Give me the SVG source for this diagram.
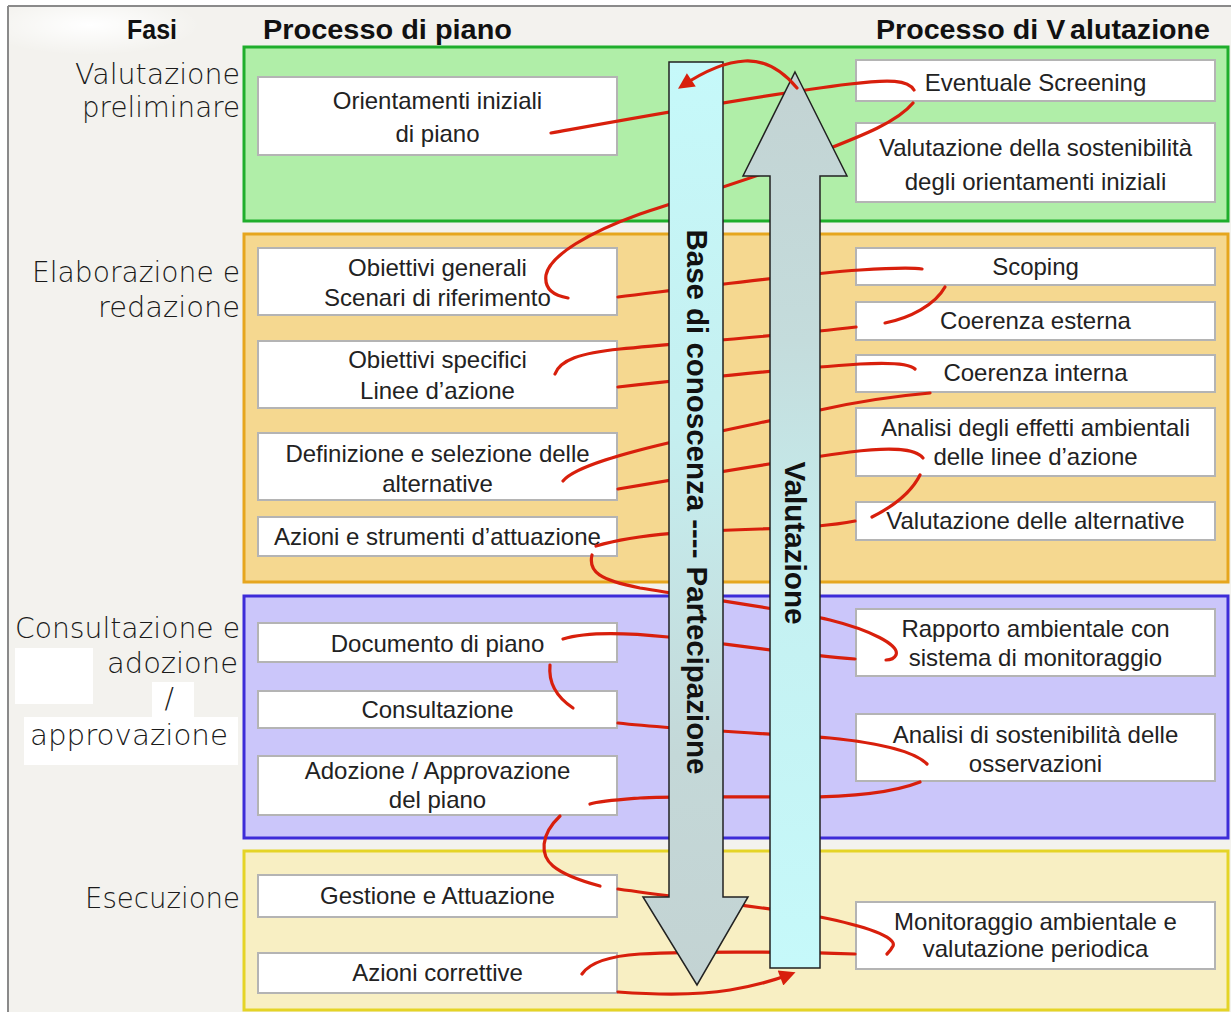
<svg xmlns="http://www.w3.org/2000/svg" width="1231" height="1012" viewBox="0 0 1231 1012">
<defs>
<style>
.hdr{font-family:"Liberation Sans",Arial,sans-serif;font-weight:bold;font-size:27px;fill:#111}
.phase{font-family:"DejaVu Sans","Liberation Sans",sans-serif;font-weight:200;font-size:28px;fill:#1a1a1a;text-anchor:end}
.node rect{fill:#fff;stroke:#b4b4b4;stroke-width:2}
.node text{font-family:"Liberation Sans",Arial,sans-serif;font-size:24px;fill:#222;text-anchor:middle}
.red{fill:none;stroke:#d81f0c;stroke-width:3.2;stroke-linecap:round}
.arrtxt{font-family:"Liberation Sans",Arial,sans-serif;font-weight:bold;font-size:29px;fill:#111;text-anchor:middle}
.blk{stroke:#222;stroke-width:1.5}
</style>
<linearGradient id="gDown" x1="0" y1="0" x2="0" y2="1">
<stop offset="0" stop-color="#c6f9fa"/><stop offset="0.4" stop-color="#c5eff0"/><stop offset="0.75" stop-color="#c4d8d8"/><stop offset="1" stop-color="#c3d3d3"/>
</linearGradient>
<linearGradient id="gUp" x1="0" y1="0" x2="0" y2="1">
<stop offset="0" stop-color="#c3d3d3"/><stop offset="0.3" stop-color="#c4dcdc"/><stop offset="0.6" stop-color="#c5f1f2"/><stop offset="1" stop-color="#c6f9fa"/>
</linearGradient>
<radialGradient id="gGlow" cx="0.5" cy="0.5" r="0.5">
<stop offset="0" stop-color="#fff" stop-opacity="1"/><stop offset="1" stop-color="#fff" stop-opacity="0"/>
</radialGradient>
<marker id="ah" viewBox="0 0 10 10" refX="7" refY="5" markerWidth="5.5" markerHeight="5" orient="auto" markerUnits="strokeWidth">
<path d="M0,0 L10,5 L0,10 z" fill="#d81f0c"/>
</marker>
</defs>

<rect x="0" y="0" width="1231" height="1012" fill="#fff"/>
<rect x="8" y="6" width="1223" height="1006" fill="#f3f2ee"/>
<ellipse cx="90" cy="25" rx="110" ry="30" fill="url(#gGlow)"/>
<rect x="15" y="648" width="78" height="56" fill="#fff"/>
<rect x="152" y="682" width="42" height="36" fill="#fff"/>
<rect x="24" y="717" width="214" height="48" fill="#fff"/>
<line x1="8" y1="6" x2="1231" y2="6" stroke="#8a8a8a" stroke-width="2"/>
<line x1="8" y1="6" x2="8" y2="1012" stroke="#8a8a8a" stroke-width="2"/>

<g id="headers">
<text class="hdr" x="127" y="39" textLength="50" lengthAdjust="spacingAndGlyphs">Fasi</text>
<text class="hdr" x="263" y="39" textLength="249" lengthAdjust="spacingAndGlyphs">Processo di piano</text>
<text class="hdr" x="876" y="39" textLength="334" lengthAdjust="spacingAndGlyphs">Processo di V<tspan dx="6">alutazione</tspan></text>
</g>

<g id="phase-labels">
<text class="phase" x="240" y="84" textLength="165" lengthAdjust="spacingAndGlyphs">Valutazione</text>
<text class="phase" x="240" y="117" textLength="158" lengthAdjust="spacingAndGlyphs">preliminare</text>
<text class="phase" x="240" y="282" textLength="208" lengthAdjust="spacingAndGlyphs">Elaborazione e</text>
<text class="phase" x="240" y="317" textLength="142" lengthAdjust="spacingAndGlyphs">redazione</text>
<text class="phase" x="240" y="638" textLength="225" lengthAdjust="spacingAndGlyphs">Consultazione e</text>
<text class="phase" x="238" y="673" textLength="131" lengthAdjust="spacingAndGlyphs">adozione</text>
<text class="phase" x="174" y="708">/</text>
<text class="phase" x="228" y="745" textLength="198" lengthAdjust="spacingAndGlyphs">approvazione</text>
<text class="phase" x="240" y="908" textLength="155" lengthAdjust="spacingAndGlyphs">Esecuzione</text>
</g>

<g id="phases">
<rect id="phase-valutazione-preliminare" x="244" y="47" width="984" height="174" fill="#b0eea8" stroke="#1fae2c" stroke-width="3"/>
<rect id="phase-elaborazione" x="244" y="234" width="984" height="348" fill="#f5d890" stroke="#e6a61e" stroke-width="3"/>
<rect id="phase-consultazione" x="244" y="596" width="984" height="242" fill="#cbc6fa" stroke="#3d2cd8" stroke-width="3"/>
<rect id="phase-esecuzione" x="244" y="851" width="984" height="159" fill="#f8efc3" stroke="#e5d426" stroke-width="3"/>
</g>

<g id="n-orientamenti" class="node"><rect x="258" y="77" width="359" height="78"/><text x="437.5" y="109">Orientamenti iniziali</text><text x="437.5" y="142">di piano</text></g>
<g id="n-obiettivi-generali" class="node"><rect x="258" y="248" width="359" height="67"/><text x="437.5" y="276">Obiettivi generali</text><text x="437.5" y="306">Scenari di riferimento</text></g>
<g id="n-obiettivi-specifici" class="node"><rect x="258" y="341" width="359" height="67"/><text x="437.5" y="368">Obiettivi specifici</text><text x="437.5" y="399">Linee d’azione</text></g>
<g id="n-definizione" class="node"><rect x="258" y="433" width="359" height="67"/><text x="437.5" y="462">Definizione e selezione delle</text><text x="437.5" y="492">alternative</text></g>
<g id="n-azioni-strumenti" class="node"><rect x="258" y="517" width="359" height="39"/><text x="437.5" y="545">Azioni e strumenti d’attuazione</text></g>
<g id="n-documento" class="node"><rect x="258" y="623" width="359" height="39"/><text x="437.5" y="652">Documento di piano</text></g>
<g id="n-consultazione" class="node"><rect x="258" y="691" width="359" height="37"/><text x="437.5" y="718">Consultazione</text></g>
<g id="n-adozione" class="node"><rect x="258" y="756" width="359" height="59"/><text x="437.5" y="779">Adozione / Approvazione</text><text x="437.5" y="808">del piano</text></g>
<g id="n-gestione" class="node"><rect x="258" y="875" width="359" height="42"/><text x="437.5" y="904">Gestione e Attuazione</text></g>
<g id="n-azioni-correttive" class="node"><rect x="258" y="953" width="359" height="40"/><text x="437.5" y="981">Azioni correttive</text></g>

<g id="n-screening" class="node"><rect x="856" y="60" width="359" height="41"/><text x="1035.5" y="91">Eventuale Screening</text></g>
<g id="n-val-sostenibilita" class="node"><rect x="856" y="123" width="359" height="79"/><text x="1035.5" y="156">Valutazione della sostenibilità</text><text x="1035.5" y="190">degli orientamenti iniziali</text></g>
<g id="n-scoping" class="node"><rect x="856" y="248" width="359" height="37"/><text x="1035.5" y="275">Scoping</text></g>
<g id="n-coerenza-esterna" class="node"><rect x="856" y="302" width="359" height="38"/><text x="1035.5" y="329">Coerenza esterna</text></g>
<g id="n-coerenza-interna" class="node"><rect x="856" y="355" width="359" height="37"/><text x="1035.5" y="381">Coerenza interna</text></g>
<g id="n-analisi-effetti" class="node"><rect x="856" y="408" width="359" height="68"/><text x="1035.5" y="436">Analisi degli effetti ambientali</text><text x="1035.5" y="465">delle linee d’azione</text></g>
<g id="n-val-alternative" class="node"><rect x="856" y="502" width="359" height="38"/><text x="1035.5" y="529">Valutazione delle alternative</text></g>
<g id="n-rapporto" class="node"><rect x="856" y="609" width="359" height="67"/><text x="1035.5" y="637">Rapporto ambientale con</text><text x="1035.5" y="666">sistema di monitoraggio</text></g>
<g id="n-analisi-sost" class="node"><rect x="856" y="714" width="359" height="67"/><text x="1035.5" y="743">Analisi di sostenibilità delle</text><text x="1035.5" y="772">osservazioni</text></g>
<g id="n-monitoraggio" class="node"><rect x="856" y="902" width="359" height="67"/><text x="1035.5" y="930">Monitoraggio ambientale e</text><text x="1035.5" y="957">valutazione periodica</text></g>

<g id="connectors">
<path class="red" d="M551,133 C640,117 760,95 850,84 C890,79 908,80 914,90"/>
<path class="red" d="M913,103 C895,125 850,140 800,160 C740,183 690,197 640,214 C590,232 550,255 546,275 C544,290 555,296 568,298"/>
<path class="red" d="M618,297 C700,287 800,274 860,270 C890,268 910,267 922,269"/>
<path class="red" d="M945,287 C935,305 910,318 885,323"/>
<path class="red" d="M856,327 C780,336 680,343 620,349 C580,353 560,360 555,374"/>
<path class="red" d="M618,387 C700,378 800,368 860,364 C895,362 910,364 915,369"/>
<path class="red" d="M930,393 C895,396 860,401 820,410 C770,421 700,435 668,443 C630,452 575,466 563,481"/>
<path class="red" d="M618,489 C700,475 790,460 850,452 C890,447 915,448 923,458"/>
<path class="red" d="M920,475 C910,495 890,508 872,517"/>
<path class="red" d="M855,521 C830,526 800,528 760,529 C700,531 640,533 596,546"/>
<path class="red" d="M592,555 C588,572 600,580 640,588 C700,598 780,608 830,620 C870,630 900,645 896,655 C894,659 890,660 886,660"/>
<path class="red" d="M855,659 C800,655 720,643 668,637 C620,632 585,632 563,639"/>
<path class="red" d="M550,665 C548,685 558,698 573,708"/>
<path class="red" d="M618,723 C680,730 780,734 830,738 C880,743 915,752 927,764"/>
<path class="red" d="M920,782 C895,792 860,797 800,797 C740,797 660,796 640,798 C615,800 600,801 590,804"/>
<path class="red" d="M560,816 C540,835 540,855 553,866 C565,876 585,882 600,886"/>
<path class="red" d="M618,889 C680,898 760,906 820,917 C865,926 897,937 893,946 C891,950 889,952 887,954"/>
<path class="red" d="M855,954 C800,952 700,951 640,954 C610,956 590,962 582,974"/>
</g>

<g id="arrow-base-conoscenza">
<polygon class="blk" fill="url(#gDown)" points="669,62 723,62 723,897 748,897 697,985 643,897 669,897"/>
<text class="arrtxt" transform="translate(697,502) rotate(90)" x="0" y="10" textLength="545" lengthAdjust="spacingAndGlyphs">Base di conoscenza ---- Partecipazione</text>
</g>
<g id="arrow-valutazione">
<polygon class="blk" fill="url(#gUp)" points="795,72 847,176 820,176 820,968 770,968 770,176 743,176"/>
<text class="arrtxt" transform="translate(795,543) rotate(90)" x="0" y="10" textLength="163" lengthAdjust="spacingAndGlyphs">Valutazione</text>
</g>

<g id="connectors-loop">
<path class="red" d="M797,88 C782,70 764,60 745,61 C722,62 700,74 682,86" marker-end="url(#ah)"/>
<path class="red" d="M618,992 C660,995 700,995 730,990 C755,986 775,980 791,974" marker-end="url(#ah)"/>
</g>
</svg>
